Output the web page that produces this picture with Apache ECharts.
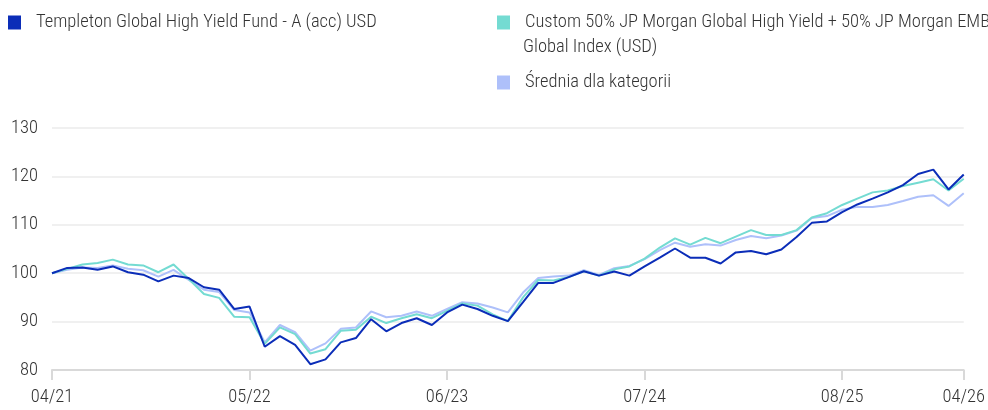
<!DOCTYPE html>
<html>
<head>
<meta charset="utf-8">
<script src="https://cdn.jsdelivr.net/npm/echarts@6/dist/echarts.min.js"></script>
<style>
html,body{margin:0;padding:0;background:#fff;}
#chart{width:988px;height:410px;}
</style>
</head>
<body>
<div id="chart"></div>
<script>
var categories = [
"04/21","05/21","06/21","07/21","08/21","09/21","10/21","11/21","12/21",
"01/22","02/22","03/22","04/22","05/22","06/22","07/22","08/22","09/22","10/22","11/22","12/22",
"01/23","02/23","03/23","04/23","05/23","06/23","07/23","08/23","09/23","10/23","11/23","12/23",
"01/24","02/24","03/24","04/24","05/24","06/24","07/24","08/24","09/24","10/24","11/24","12/24",
"01/25","02/25","03/25","04/25","05/25","06/25","07/25","08/25","09/25","10/25","11/25","12/25",
"01/26","02/26","03/26","04/26"];

var labelMonths = ["04/21","05/22","06/23","07/24","08/25","04/26"];

var fundName = "Templeton Global High Yield Fund - A (acc) USD";
var benchName = "Custom 50% JP Morgan Global High Yield + 50% JP Morgan EMBI Global Index (USD)";
var catName = "Średnia dla kategorii";

var fund = [
100.0,101.1,101.2,100.7,101.4,100.2,99.7,98.3,99.5,99.0,97.1,96.6,92.6,
93.1,84.8,87.0,85.2,81.2,82.2,85.7,86.6,90.5,88.0,89.7,90.7,
89.3,91.9,93.5,92.6,91.2,90.1,94.0,98.0,98.0,99.2,100.4,99.5,
100.35,99.5,101.4,103.2,105.1,103.2,103.2,102.0,104.3,104.6,103.9,104.9,
107.5,110.4,110.7,112.6,114.2,115.4,116.7,118.2,120.5,121.4,117.3,120.4];

var bench = [
100.0,100.9,101.8,102.1,102.8,101.8,101.6,100.2,101.8,98.8,95.7,94.9,91.0,
90.9,85.4,88.8,87.4,83.4,84.3,88.1,88.3,91.0,89.7,90.7,91.5,
90.7,92.2,93.75,93.3,91.5,90.1,95.0,98.6,98.5,99.2,100.4,99.5,
100.8,101.4,103.0,105.3,107.2,105.9,107.3,106.2,107.55,108.9,107.9,107.9,
108.9,111.5,112.4,114.1,115.4,116.7,117.1,118.0,118.7,119.4,117.1,119.5];

var category = [
100.0,100.7,101.2,101.1,101.6,100.9,100.6,99.3,100.7,98.6,96.6,96.1,92.4,
91.9,85.7,89.3,87.8,84.0,85.5,88.5,88.8,92.1,90.9,91.2,92.1,
91.2,92.6,94.0,93.75,92.9,91.9,96.0,99.0,99.3,99.5,100.6,99.65,
101.05,101.5,102.9,104.75,106.3,105.45,106.0,105.7,106.85,107.7,107.2,107.8,
108.8,111.4,111.8,113.1,113.7,113.7,114.1,114.9,115.8,116.1,113.9,116.5];

var yTicks = [80, 90, 100, 110, 120, 130];

var FONT = "'Roboto Condensed','Liberation Sans Narrow',sans-serif";
var FS = 18.5;
var FW = 300;
var TXT = '#333333';
var cFund = '#0b2db8', cBench = '#74dbd2', cCat = '#aec0fa';

var labelIdx = labelMonths.map(function(m){ return categories.indexOf(m); });
function showIdx(i){ return labelIdx.indexOf(i) >= 0; }

function legendCfg(name, left, top, color, text){
  return {
    data: [{name: name, icon: 'rect', itemStyle: {color: color}}],
    left: left, top: top,
    itemWidth: 13, itemHeight: 14,
    padding: 0,
    selectedMode: false,
    formatter: function(){ return text; },
    textStyle: {fontFamily: FONT, fontSize: FS, fontWeight: FW, color: TXT, padding: [0,0,0,10]}
  };
}

var chart = echarts.init(document.getElementById('chart'), null, {renderer: 'canvas'});
chart.setOption({
  animation: false,
  backgroundColor: '#ffffff',
  legend: [
    legendCfg(fundName, 8, 13, cFund, fundName),
    legendCfg(benchName, 497, 13, cBench, "Custom 50% JP Morgan Global High Yield + 50% JP Morgan EMBI"),
    legendCfg(catName, 497, 73, cCat, catName)
  ],
  graphic: [{
    type: 'text', left: 523, top: 38,
    style: {text: 'Global Index (USD)', font: FW + ' ' + FS + 'px ' + FONT, fill: TXT}
  }],
  grid: {left: 52, right: 20, top: 128, bottom: 40, containLabel: false},
  xAxis: {
    type: 'category',
    data: categories,
    boundaryGap: false,
    axisLine: {show: true, lineStyle: {color: '#d9d9d9', width: 2}},
    axisTick: {show: true, length: 10, interval: function(i){ return showIdx(i); }, lineStyle: {color: '#d9d9d9', width: 2}},
    axisLabel: {interval: function(i){ return showIdx(i); }, margin: 18, fontFamily: FONT, fontSize: FS, fontWeight: FW, color: TXT, showMaxLabel: true},
    splitLine: {show: false}
  },
  yAxis: {
    type: 'value',
    min: yTicks[0], max: yTicks[yTicks.length-1], interval: 10,
    axisLine: {show: false},
    axisTick: {show: false},
    axisLabel: {margin: 14, fontFamily: FONT, fontSize: FS, fontWeight: FW, color: TXT},
    splitLine: {show: true, lineStyle: {color: '#f0f0f0', width: 2}}
  },
  series: [
    {name: catName, type: 'line', data: category, symbol: 'none', lineStyle: {color: cCat, width: 2}, itemStyle: {color: cCat}, z: 1},
    {name: benchName, type: 'line', data: bench, symbol: 'none', lineStyle: {color: cBench, width: 2}, itemStyle: {color: cBench}, z: 2},
    {name: fundName, type: 'line', data: fund, symbol: 'none', lineStyle: {color: cFund, width: 2}, itemStyle: {color: cFund}, z: 3}
  ]
});
</script>
</body>
</html>
